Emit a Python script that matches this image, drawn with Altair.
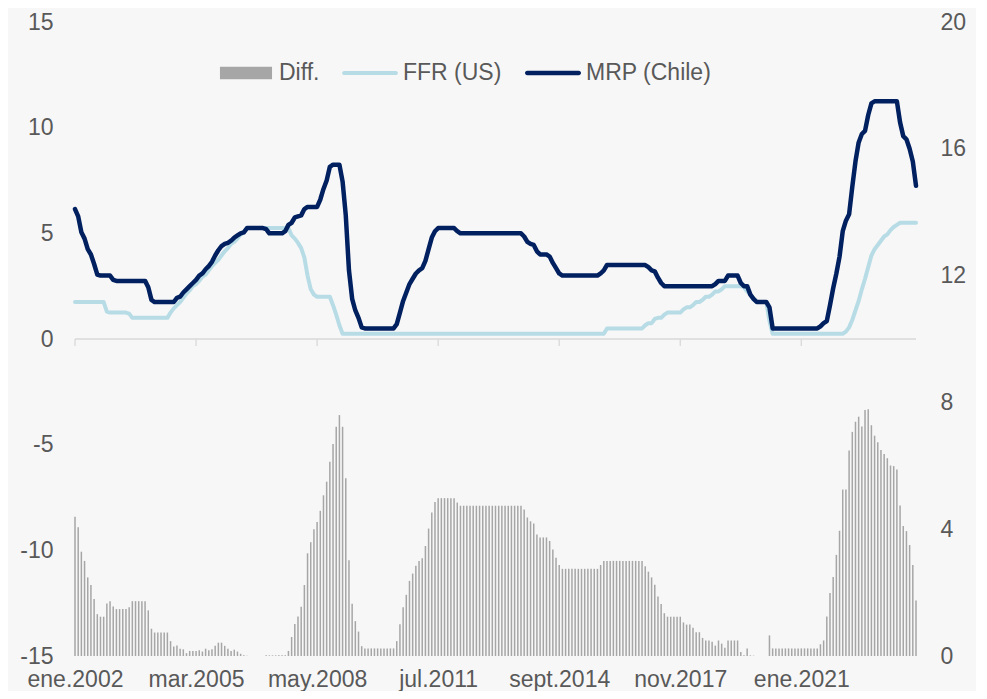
import json
import altair as alt
import pandas as pd

# ---------------- data (monthly, ene.2002 .. ene.2024) ----------------
MRP_CHILE = [
    6.15, 5.80, 5.05, 4.75, 4.25, 4.00, 3.55, 3.05, 3.00, 3.00, 3.00, 3.00,   # 2002
    2.80, 2.75, 2.75, 2.75, 2.75, 2.75, 2.75, 2.75, 2.75, 2.75, 2.75, 2.45,   # 2003
    1.85, 1.75, 1.75, 1.75, 1.75, 1.75, 1.75, 1.75, 1.95, 2.00, 2.20, 2.35,   # 2004
    2.50, 2.65, 2.80, 3.00, 3.10, 3.30, 3.45, 3.65, 3.95, 4.20, 4.40, 4.50,   # 2005
    4.55, 4.65, 4.80, 4.90, 5.00, 5.05, 5.25, 5.25, 5.25, 5.25, 5.25, 5.25,   # 2006
    5.20, 5.00, 5.00, 5.00, 5.00, 5.00, 5.10, 5.40, 5.50, 5.75, 5.80, 5.85,   # 2007
    6.15, 6.25, 6.25, 6.25, 6.25, 6.60, 7.10, 7.50, 8.15, 8.25, 8.25, 8.25,   # 2008
    7.45, 5.85, 3.25, 1.90, 1.35, 1.00, 0.55, 0.50, 0.50, 0.50, 0.50, 0.50,   # 2009
    0.50, 0.50, 0.50, 0.50, 0.50, 0.70, 1.25, 1.80, 2.20, 2.60, 2.85, 3.10,   # 2010
    3.25, 3.35, 3.70, 4.25, 4.80, 5.10, 5.25, 5.25, 5.25, 5.25, 5.25, 5.25,   # 2011
    5.10, 5.00, 5.00, 5.00, 5.00, 5.00, 5.00, 5.00, 5.00, 5.00, 5.00, 5.00,   # 2012
    5.00, 5.00, 5.00, 5.00, 5.00, 5.00, 5.00, 5.00, 5.00, 4.85, 4.60, 4.50,   # 2013
    4.45, 4.15, 4.00, 4.00, 4.00, 3.90, 3.60, 3.35, 3.10, 3.00, 3.00, 3.00,   # 2014
    3.00, 3.00, 3.00, 3.00, 3.00, 3.00, 3.00, 3.00, 3.00, 3.10, 3.25, 3.50,   # 2015
    3.50, 3.50, 3.50, 3.50, 3.50, 3.50, 3.50, 3.50, 3.50, 3.50, 3.50, 3.50,   # 2016
    3.40, 3.25, 3.20, 2.90, 2.65, 2.50, 2.50, 2.50, 2.50, 2.50, 2.50, 2.50,   # 2017
    2.50, 2.50, 2.50, 2.50, 2.50, 2.50, 2.50, 2.50, 2.50, 2.60, 2.75, 2.75,   # 2018
    2.75, 3.00, 3.00, 3.00, 3.00, 2.65, 2.50, 2.50, 2.10, 1.90, 1.75, 1.75,   # 2019
    1.75, 1.75, 1.50, 0.50, 0.50, 0.50, 0.50, 0.50, 0.50, 0.50, 0.50, 0.50,   # 2020
    0.50, 0.50, 0.50, 0.50, 0.50, 0.50, 0.60, 0.75, 0.85, 1.60, 2.40, 3.10,   # 2021
    3.90, 5.10, 5.60, 5.90, 7.20, 8.40, 9.30, 9.70, 9.85, 10.60, 11.15, 11.25,  # 2022
    11.25, 11.25, 11.25, 11.25, 11.25, 11.25, 11.25, 10.25, 9.60, 9.45, 9.00, 8.40,  # 2023
    7.25,                                                                       # 2024
]

FFR_US = [
    1.75, 1.75, 1.75, 1.75, 1.75, 1.75, 1.75, 1.75, 1.75, 1.75, 1.30, 1.25,   # 2002
    1.25, 1.25, 1.25, 1.25, 1.25, 1.20, 1.00, 1.00, 1.00, 1.00, 1.00, 1.00,   # 2003
    1.00, 1.00, 1.00, 1.00, 1.00, 1.00, 1.25, 1.45, 1.60, 1.75, 1.95, 2.15,   # 2004
    2.30, 2.50, 2.60, 2.75, 2.95, 3.05, 3.25, 3.45, 3.60, 3.75, 3.95, 4.15,   # 2005
    4.30, 4.50, 4.60, 4.75, 4.95, 5.05, 5.25, 5.25, 5.25, 5.25, 5.25, 5.25,   # 2006
    5.25, 5.25, 5.25, 5.25, 5.25, 5.25, 5.25, 5.25, 4.90, 4.75, 4.55, 4.30,   # 2007
    3.85, 3.00, 2.35, 2.10, 2.00, 2.00, 2.00, 2.00, 2.00, 1.60, 1.15, 0.65,   # 2008
    0.25, 0.25, 0.25, 0.25, 0.25, 0.25, 0.25, 0.25, 0.25, 0.25, 0.25, 0.25,   # 2009
    0.25, 0.25, 0.25, 0.25, 0.25, 0.25, 0.25, 0.25, 0.25, 0.25, 0.25, 0.25,   # 2010
    0.25, 0.25, 0.25, 0.25, 0.25, 0.25, 0.25, 0.25, 0.25, 0.25, 0.25, 0.25,   # 2011
    0.25, 0.25, 0.25, 0.25, 0.25, 0.25, 0.25, 0.25, 0.25, 0.25, 0.25, 0.25,   # 2012
    0.25, 0.25, 0.25, 0.25, 0.25, 0.25, 0.25, 0.25, 0.25, 0.25, 0.25, 0.25,   # 2013
    0.25, 0.25, 0.25, 0.25, 0.25, 0.25, 0.25, 0.25, 0.25, 0.25, 0.25, 0.25,   # 2014
    0.25, 0.25, 0.25, 0.25, 0.25, 0.25, 0.25, 0.25, 0.25, 0.25, 0.25, 0.50,   # 2015
    0.50, 0.50, 0.50, 0.50, 0.50, 0.50, 0.50, 0.50, 0.50, 0.50, 0.50, 0.65,   # 2016
    0.75, 0.75, 0.95, 1.00, 1.00, 1.15, 1.25, 1.25, 1.25, 1.25, 1.25, 1.40,   # 2017
    1.50, 1.50, 1.60, 1.75, 1.75, 1.85, 2.00, 2.00, 2.10, 2.25, 2.25, 2.35,   # 2018
    2.50, 2.50, 2.50, 2.50, 2.50, 2.50, 2.45, 2.25, 2.10, 1.90, 1.75, 1.75,   # 2019
    1.75, 1.75, 0.85, 0.25, 0.25, 0.25, 0.25, 0.25, 0.25, 0.25, 0.25, 0.25,   # 2020
    0.25, 0.25, 0.25, 0.25, 0.25, 0.25, 0.25, 0.25, 0.25, 0.25, 0.25, 0.25,   # 2021
    0.25, 0.25, 0.35, 0.55, 0.90, 1.35, 1.80, 2.35, 2.85, 3.40, 3.95, 4.25,   # 2022
    4.45, 4.65, 4.85, 4.95, 5.15, 5.30, 5.40, 5.50, 5.50, 5.50, 5.50, 5.50,   # 2023
    5.50,                                                                       # 2024
]

DIFF = [
    4.39, 4.06, 3.29, 3.00, 2.48, 2.24, 1.80, 1.32, 1.24, 1.24, 1.66, 1.73,   # 2002
    1.56, 1.48, 1.48, 1.48, 1.48, 1.54, 1.73, 1.73, 1.73, 1.73, 1.73, 1.44,   # 2003
    0.86, 0.74, 0.74, 0.74, 0.74, 0.74, 0.47, 0.30, 0.33, 0.23, 0.21, 0.09,   # 2004
    0.16, 0.16, 0.16, 0.18, 0.14, 0.23, 0.18, 0.21, 0.32, 0.42, 0.42, 0.32,   # 2005
    0.23, 0.16, 0.20, 0.14, 0.07, 0.02, 0.01, 0.00, 0.00, 0.00, 0.00, 0.00,   # 2006
    0.02, 0.02, 0.02, 0.02, 0.02, 0.02, 0.02, 0.16, 0.60, 1.01, 1.25, 1.55,   # 2007
    2.24, 3.24, 3.59, 4.00, 4.23, 4.58, 5.07, 5.50, 6.13, 6.69, 7.23, 7.60,   # 2008
    7.23, 5.61, 3.02, 1.65, 1.10, 0.77, 0.31, 0.24, 0.24, 0.24, 0.24, 0.24,   # 2009
    0.24, 0.24, 0.24, 0.24, 0.24, 0.47, 1.00, 1.54, 1.93, 2.37, 2.60, 2.85,   # 2010
    3.00, 3.08, 3.47, 4.02, 4.53, 4.86, 4.98, 4.98, 4.98, 4.98, 4.98, 4.98,   # 2011
    4.84, 4.74, 4.74, 4.74, 4.74, 4.74, 4.74, 4.74, 4.74, 4.74, 4.74, 4.74,   # 2012
    4.74, 4.74, 4.74, 4.74, 4.74, 4.74, 4.74, 4.74, 4.74, 4.62, 4.37, 4.25,   # 2013
    4.18, 3.83, 3.74, 3.74, 3.74, 3.63, 3.36, 3.10, 2.87, 2.75, 2.75, 2.75,   # 2014
    2.75, 2.75, 2.75, 2.75, 2.75, 2.75, 2.75, 2.75, 2.75, 2.87, 3.00, 3.00,   # 2015
    3.00, 3.00, 3.00, 3.00, 3.00, 3.00, 3.00, 3.00, 3.00, 3.00, 3.00, 2.83,   # 2016
    2.66, 2.48, 2.25, 1.88, 1.64, 1.35, 1.24, 1.24, 1.24, 1.24, 1.24, 1.06,   # 2017
    0.99, 0.99, 0.89, 0.75, 0.75, 0.57, 0.49, 0.49, 0.45, 0.33, 0.49, 0.39,   # 2018
    0.26, 0.49, 0.49, 0.49, 0.49, 0.13, 0.02, 0.24, 0.02, 0.01, 0.00, 0.00,   # 2019
    0.00, 0.00, 0.65, 0.24, 0.24, 0.24, 0.24, 0.24, 0.24, 0.24, 0.24, 0.24,   # 2020
    0.24, 0.24, 0.24, 0.24, 0.24, 0.24, 0.37, 0.49, 1.25, 1.99, 2.49, 3.19,   # 2021
    3.95, 5.25, 5.25, 6.48, 7.07, 7.39, 7.55, 7.24, 7.76, 7.78, 7.28, 6.95,   # 2022
    6.74, 6.50, 6.37, 6.24, 6.01, 5.99, 5.88, 4.75, 4.10, 3.94, 3.50, 2.87,   # 2023
    1.75,                                                                       # 2024
]

SERIES = ["Diff.", "FFR (US)", "MRP (Chile)"]
X_TICK_POS = [0, 38, 76, 114, 152, 190, 228]
X_TICK_LABELS = ["ene.2002", "mar.2005", "may.2008", "jul.2011",
                 "sept.2014", "nov.2017", "ene.2021"]
LEFT_TICKS = [-15, -10, -5, 0, 5, 10, 15]
RIGHT_TICKS = [0, 4, 8, 12, 16, 20]

# ---------------- styling ----------------
FONT = "Liberation Sans"
TXT = "#595959"
C_DIFF = "#a6a6a6"
C_FFR = "#b7dce6"
C_MRP = "#002060"
C_AXIS = "#d9d9d9"
SERIES_COLORS = [C_DIFF, C_FFR, C_MRP]
SHAPES = [
    "M-0.93,-0.22H0.93V0.22H-0.93Z",
    "M-0.92,-0.075H0.92A0.075,0.075 0 0 1 0.92,0.075H-0.92A0.075,0.075 0 0 1 -0.92,-0.075Z",
    "M-0.92,-0.08H0.92A0.08,0.08 0 0 1 0.92,0.08H-0.92A0.08,0.08 0 0 1 -0.92,-0.08Z",
]
W, H = 841, 634
FS = 23

n = len(MRP_CHILE)
df = pd.DataFrame({"idx": list(range(n)), "mrp": MRP_CHILE, "ffr": FFR_US, "diff": DIFF})
ticks_df = pd.DataFrame({"pos": X_TICK_POS})
one_df = pd.DataFrame({"k": [0]})
legend_df = pd.DataFrame({"series": SERIES})

XSCALE = alt.Scale(domain=[0, n - 1], nice=False, zero=False, padding=0)
YLEFT = alt.Scale(domain=[-15, 15], nice=False, zero=False)
YRIGHT = alt.Scale(domain=[0, 20], nice=False)

label_expr = "%s[indexof(%s, datum.value)]" % (json.dumps(X_TICK_LABELS), json.dumps(X_TICK_POS))

XAXIS = alt.Axis(values=X_TICK_POS, labelExpr=label_expr, domain=False, ticks=False,
                 grid=False, labelPadding=12, labelBaseline="top", labelFlush=False,
                 labelOverlap=False, title=None, orient="bottom")
LEFT_AXIS = alt.Axis(orient="left", values=LEFT_TICKS, labelExpr="'' + datum.value",
                     domain=False, ticks=False, grid=False, labelPadding=22, title=None)
RIGHT_AXIS = alt.Axis(orient="right", values=RIGHT_TICKS, labelExpr="'' + datum.value",
                      domain=False, ticks=False, grid=False, labelPadding=24, title=None)

bars = alt.Chart(df).mark_bar(size=1.5, color=C_DIFF).encode(
    x=alt.X("idx:Q", scale=XSCALE, axis=XAXIS),
    y=alt.Y("diff:Q", scale=YRIGHT, axis=RIGHT_AXIS),
)

zero_line = alt.Chart(one_df).mark_rule(color=C_AXIS, strokeWidth=1.3).encode(
    x=alt.XDatum(0, scale=XSCALE, axis=XAXIS),
    x2=alt.X2Datum(n - 1),
    y=alt.YDatum(0, scale=YLEFT, axis=LEFT_AXIS),
)

tick_marks = alt.Chart(ticks_df).mark_rule(color=C_AXIS, strokeWidth=1.3).encode(
    x=alt.X("pos:Q", scale=XSCALE, axis=XAXIS),
    y=alt.YDatum(0, scale=YLEFT, axis=LEFT_AXIS),
    y2=alt.Y2Datum(-0.33),
)

ffr = alt.Chart(df).mark_line(color=C_FFR, strokeWidth=4, strokeCap="round",
                              strokeJoin="round").encode(
    x=alt.X("idx:Q", scale=XSCALE, axis=XAXIS),
    y=alt.Y("ffr:Q", scale=YLEFT, axis=LEFT_AXIS),
)

mrp = alt.Chart(df).mark_line(color=C_MRP, strokeWidth=4.5, strokeCap="round",
                              strokeJoin="round").encode(
    x=alt.X("idx:Q", scale=XSCALE, axis=XAXIS),
    y=alt.Y("mrp:Q", scale=YLEFT, axis=LEFT_AXIS),
)

leg = alt.Legend(title=None, orient="none", legendX=143, legendY=23, direction="horizontal",
                 symbolSize=3136, symbolStrokeWidth=0, symbolOpacity=1,
                 labelFontSize=FS, labelFont=FONT, labelColor=TXT, labelOffset=5,
                 columnPadding=22, padding=0)

legend_layer = alt.Chart(legend_df).mark_point(filled=True, opacity=0).encode(
    x=alt.value(0),
    y=alt.value(0),
    color=alt.Color("series:N", scale=alt.Scale(domain=SERIES, range=SERIES_COLORS), legend=leg),
    shape=alt.Shape("series:N", scale=alt.Scale(domain=SERIES, range=SHAPES), legend=leg),
)

left_group = alt.layer(zero_line, tick_marks, ffr, mrp)

chart = alt.layer(bars, left_group, legend_layer).resolve_scale(
    y="independent"
).properties(
    width=W, height=H,
    background="#f7f7f7",
    padding={"left": 67, "top": 14, "right": 60, "bottom": 35},
    autosize=alt.AutoSizeParams(type="none"),
).configure_view(stroke=None).configure_axis(
    labelFont=FONT, labelColor=TXT, labelFontSize=FS
)

chart.save("out.html", embed_options={"renderer": "svg", "actions": False})
